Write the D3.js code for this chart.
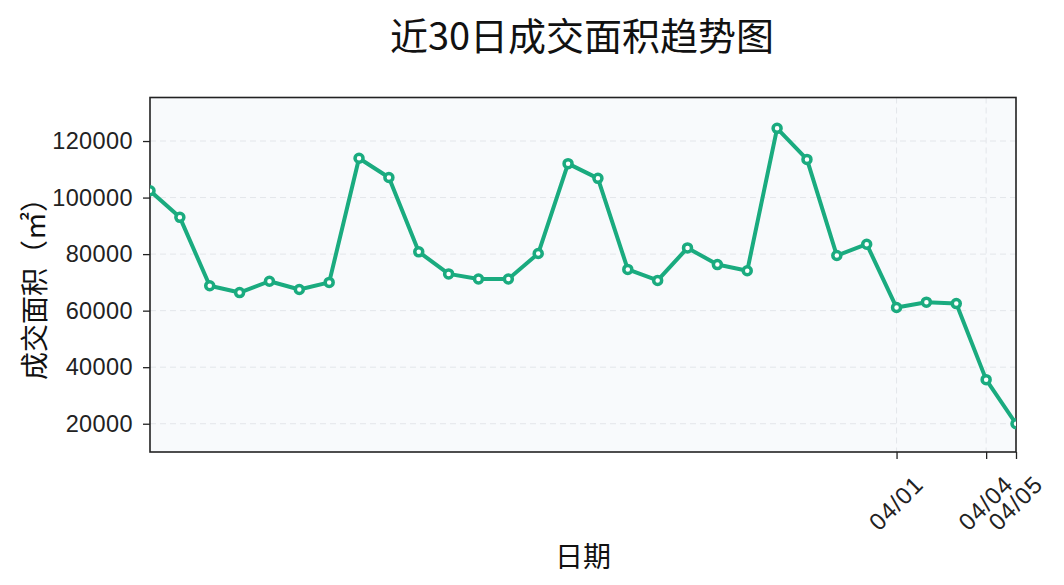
<!DOCTYPE html>
<html><head><meta charset="utf-8">
<script src="https://cdn.jsdelivr.net/npm/d3@7/dist/d3.min.js"></script>
<style>body{margin:0;background:#fff;} svg{display:block;}</style>
</head><body>
<svg id="chart" width="1064" height="585"></svg>
<script>
const title = "近30日成交面积趋势图";
const dates = ["2025-03-07","2025-03-08","2025-03-09","2025-03-10","2025-03-11","2025-03-12","2025-03-13","2025-03-14","2025-03-15","2025-03-16","2025-03-17","2025-03-18","2025-03-19","2025-03-20","2025-03-21","2025-03-22","2025-03-23","2025-03-24","2025-03-25","2025-03-26","2025-03-27","2025-03-28","2025-03-29","2025-03-30","2025-03-31","2025-04-01","2025-04-02","2025-04-03","2025-04-04","2025-04-05"];
const areas = [102400,93000,68800,66400,70400,67500,70000,113900,107100,80800,73000,71200,71200,80200,112000,106800,74600,70700,82200,76300,74100,124500,113500,79500,83500,61100,63000,62500,35600,20000];
const xTickDates = ["2025-04-01","2025-04-04","2025-04-05"];
const yTicks = [20000,40000,60000,80000,100000,120000];

const parse = d3.timeParse("%Y-%m-%d");
const fmt = d3.timeFormat("%m/%d");
const data = dates.map((d,i)=>({date:parse(d), v:areas[i]}));

const svg = d3.select("#chart");
const m = {left:150, right:1016, top:97.5, bottom:452};
const x = d3.scaleTime().domain(d3.extent(data,d=>d.date)).range([m.left,m.right]);
const y = d3.scaleLinear().domain([10000,135400]).range([m.bottom,m.top]);
const latin = "Liberation Sans, Arial, sans-serif";
const cjk = "Noto Sans CJK SC, sans-serif";

svg.append("rect").attr("x",m.left).attr("y",m.top).attr("width",m.right-m.left).attr("height",m.bottom-m.top).attr("fill","#f8fafc");

// grid
const g = svg.append("g");
g.selectAll(".hg").data(yTicks).join("line")
  .attr("x1",m.left).attr("x2",m.right).attr("y1",d=>y(d)).attr("y2",d=>y(d))
  .attr("stroke","#e3e6ea").attr("stroke-width",1).attr("stroke-dasharray","6,4");
g.selectAll(".vg").data(xTickDates.map(parse)).join("line")
  .attr("y1",m.top).attr("y2",m.bottom).attr("x1",d=>x(d)).attr("x2",d=>x(d))
  .attr("stroke","#e3e6ea").attr("stroke-width",1).attr("stroke-dasharray","6,4");

// axes
const yAxis = svg.append("g").attr("transform",`translate(${m.left},0)`)
  .call(d3.axisLeft(y).tickValues(yTicks).tickFormat(d3.format("d")).tickSize(7).tickPadding(10));
yAxis.select(".domain").remove();
yAxis.selectAll("text").attr("font-family",latin).attr("font-size",23.5).attr("fill","#222").attr("letter-spacing",0.4);
yAxis.selectAll("line").attr("stroke","#222").attr("stroke-width",1.3);

const xAxis = svg.append("g").attr("transform",`translate(0,${m.bottom})`)
  .call(d3.axisBottom(x).tickValues(xTickDates.map(parse)).tickFormat(fmt).tickSize(7).tickPadding(4));
xAxis.select(".domain").remove();
xAxis.selectAll("line").attr("stroke","#222").attr("stroke-width",1.3);
xAxis.selectAll("text").attr("font-family",latin).attr("font-size",24).attr("fill","#222").attr("letter-spacing",1)
  .attr("text-anchor","middle").attr("y",0).attr("dy","0.35em").attr("transform","translate(-1,51) rotate(-45)");

// frame
svg.append("rect").attr("x",m.left).attr("y",m.top).attr("width",m.right-m.left).attr("height",m.bottom-m.top)
  .attr("fill","none").attr("stroke","#222").attr("stroke-width",1.6);

// line
svg.append("clipPath").attr("id","clip").append("rect").attr("x",m.left).attr("y",m.top).attr("width",m.right-m.left).attr("height",m.bottom-m.top);
const plot = svg.append("g").attr("clip-path","url(#clip)");
plot.append("path").datum(data)
  .attr("d", d3.line().x(d=>x(d.date)).y(d=>y(d.v)))
  .attr("fill","none").attr("stroke","#1aab7f").attr("stroke-width",4).attr("stroke-linejoin","round");
plot.selectAll("circle").data(data).join("circle")
  .attr("cx",d=>x(d.date)).attr("cy",d=>y(d.v)).attr("r",4)
  .attr("fill","#fff").attr("stroke","#1aab7f").attr("stroke-width",3.5);

// titles
svg.append("text").attr("x",582).attr("y",50).attr("text-anchor","middle")
  .attr("font-family",cjk).attr("font-size",38).attr("fill","#111").text(title);
svg.append("text").attr("x",583).attr("y",567).attr("text-anchor","middle")
  .attr("font-family",cjk).attr("font-size",28).attr("fill","#111").text("日期");
svg.append("text").attr("transform","translate(45,282) rotate(-90)").attr("text-anchor","middle")
  .attr("font-family",cjk).attr("font-size",28).attr("fill","#111").text("成交面积（㎡）");
</script>
</body></html>
